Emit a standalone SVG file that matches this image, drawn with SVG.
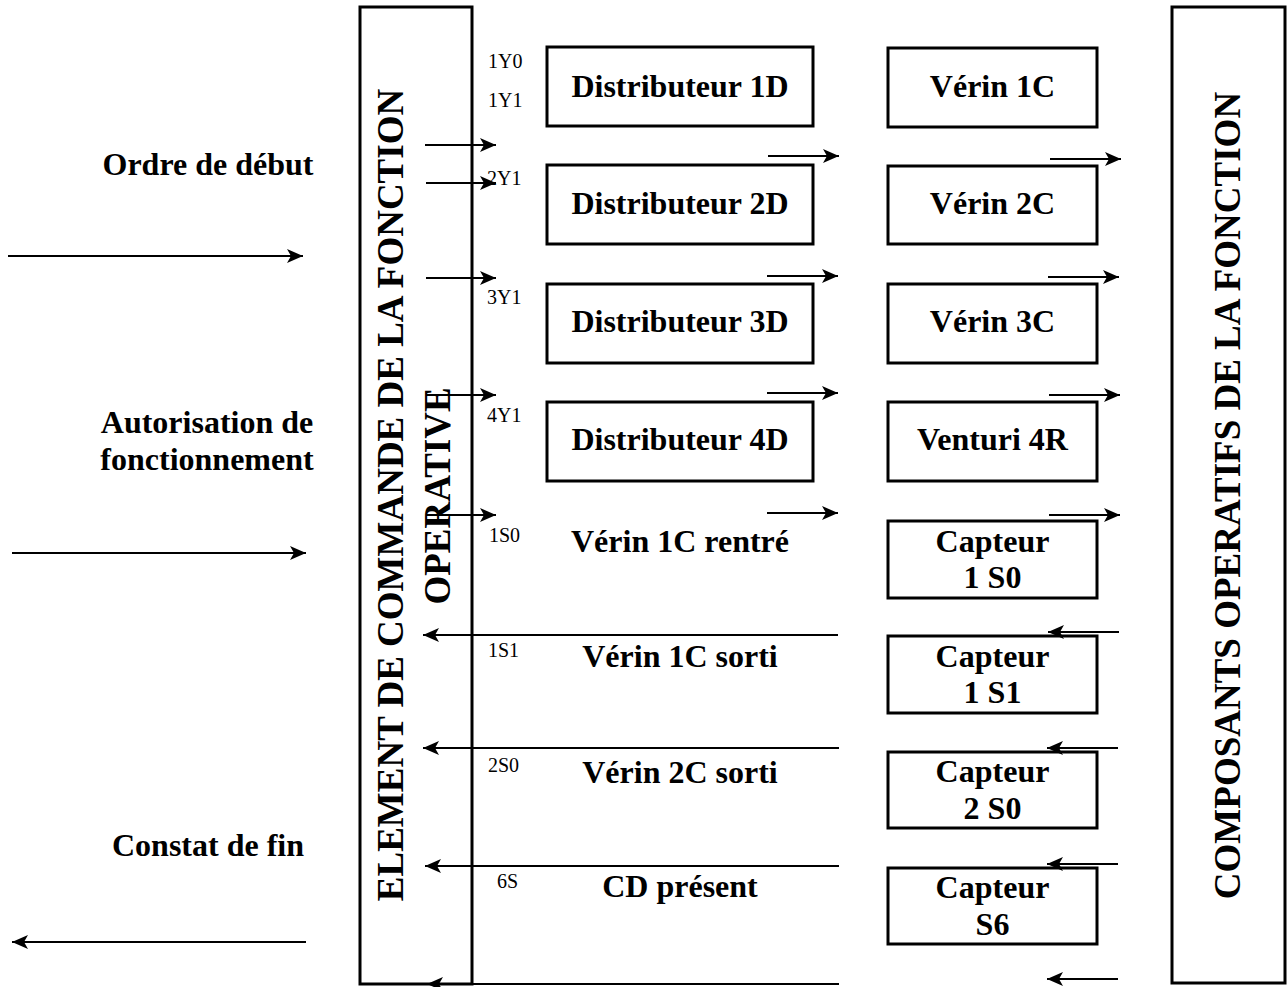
<svg xmlns="http://www.w3.org/2000/svg" width="1288" height="987" viewBox="0 0 1288 987">
<style>
.box{fill:#fff;stroke:#000;stroke-width:3}
.frame{fill:none;stroke:#000;stroke-width:3}
.t{font-family:"Liberation Serif","Times New Roman",serif;font-weight:bold;font-size:32px;fill:#000;text-anchor:middle}
.v{font-family:"Liberation Serif","Times New Roman",serif;font-weight:bold;font-size:37px;fill:#000;text-anchor:middle}
.s{font-family:"Liberation Serif","Times New Roman",serif;font-size:20px;fill:#000}
.c{stroke:#000;stroke-width:2;fill:none;marker-end:url(#ah)}
</style>
<defs>
<marker id="ah" markerWidth="17" markerHeight="16" refX="16" refY="8" orient="auto" markerUnits="userSpaceOnUse">
<path d="M0,1 L16,8 L0,15 L4,8 z" fill="#000"/>
</marker>
</defs>
<rect width="1288" height="987" fill="#fff"/>

<g id="external-labels">
<text class="t" x="208" y="175">Ordre de début</text>
<text class="t" x="207" y="433">Autorisation de</text>
<text class="t" x="207" y="470">fonctionnement</text>
<text class="t" x="208" y="856">Constat de fin</text>
</g>

<g id="commande">
<rect class="frame" x="360" y="7" width="112" height="977"/>
<text class="v" transform="translate(403,495) rotate(-90)">ELEMENT DE COMMANDE DE LA FONCTION</text>
<text class="v" transform="translate(450,496) rotate(-90)">OPERATIVE</text>
</g>

<g id="composants">
<rect class="frame" x="1172" y="7" width="113" height="976"/>
<text class="v" transform="translate(1240,495.5) rotate(-90)">COMPOSANTS OPERATIFS DE LA FONCTION</text>
</g>

<g id="signal-labels">
<text class="s" x="488" y="68">1Y0</text>
<text class="s" x="488" y="107">1Y1</text>
<text class="s" x="487" y="185">2Y1</text>
<text class="s" x="487" y="304">3Y1</text>
<text class="s" x="487" y="422">4Y1</text>
<text class="s" x="489" y="542">1S0</text>
<text class="s" x="488" y="657">1S1</text>
<text class="s" x="488" y="772">2S0</text>
<text class="s" x="497" y="888">6S</text>
</g>

<g id="dist1"><rect class="box" x="547" y="47" width="266" height="79"/><text class="t" x="680" y="97">Distributeur 1D</text></g>
<g id="dist2"><rect class="box" x="547" y="165" width="266" height="79"/><text class="t" x="680" y="214">Distributeur 2D</text></g>
<g id="dist3"><rect class="box" x="547" y="284" width="266" height="79"/><text class="t" x="680" y="332">Distributeur 3D</text></g>
<g id="dist4"><rect class="box" x="547" y="402" width="266" height="79"/><text class="t" x="680" y="450">Distributeur 4D</text></g>

<g id="sig-1s0"><text class="t" x="680" y="552">Vérin 1C rentré</text></g>
<g id="sig-1s1"><text class="t" x="680" y="667">Vérin 1C sorti</text></g>
<g id="sig-2s0"><text class="t" x="680" y="783">Vérin 2C sorti</text></g>
<g id="sig-6s"><text class="t" x="680" y="897">CD présent</text></g>

<g id="verin1"><rect class="box" x="888" y="48" width="209" height="79"/><text class="t" x="992.5" y="97">Vérin 1C</text></g>
<g id="verin2"><rect class="box" x="888" y="166" width="209" height="78"/><text class="t" x="992.5" y="214">Vérin 2C</text></g>
<g id="verin3"><rect class="box" x="888" y="284" width="209" height="79"/><text class="t" x="992.5" y="332">Vérin 3C</text></g>
<g id="venturi4"><rect class="box" x="888" y="402" width="209" height="79"/><text class="t" x="992.5" y="450">Venturi 4R</text></g>
<g id="capteur1s0"><rect class="box" x="888" y="521" width="209" height="77"/><text class="t" x="992.5" y="552">Capteur</text><text class="t" x="992.5" y="588">1 S0</text></g>
<g id="capteur1s1"><rect class="box" x="888" y="636" width="209" height="77"/><text class="t" x="992.5" y="667">Capteur</text><text class="t" x="992.5" y="703">1 S1</text></g>
<g id="capteur2s0"><rect class="box" x="888" y="752" width="209" height="76"/><text class="t" x="992.5" y="782">Capteur</text><text class="t" x="992.5" y="819">2 S0</text></g>
<g id="capteurs6"><rect class="box" x="888" y="868" width="209" height="76"/><text class="t" x="992.5" y="898">Capteur</text><text class="t" x="992.5" y="935">S6</text></g>

<g id="connectors">
<line class="c" x1="8" y1="256" x2="303" y2="256"/>
<line class="c" x1="12" y1="553" x2="306" y2="553"/>
<line class="c" x1="306" y1="942" x2="12" y2="942"/>

<line class="c" x1="425" y1="145" x2="496" y2="145"/>
<line class="c" x1="426" y1="183" x2="496" y2="183"/>
<line class="c" x1="426" y1="278" x2="496" y2="278"/>
<line class="c" x1="426" y1="395" x2="496" y2="395"/>
<line class="c" x1="426" y1="515" x2="496" y2="515"/>

<line class="c" x1="768" y1="156" x2="839" y2="156"/>
<line class="c" x1="767" y1="276" x2="838" y2="276"/>
<line class="c" x1="767" y1="393" x2="838" y2="393"/>
<line class="c" x1="767" y1="513" x2="838" y2="513"/>

<line class="c" x1="1050" y1="159" x2="1121" y2="159"/>
<line class="c" x1="1048" y1="277" x2="1119" y2="277"/>
<line class="c" x1="1049" y1="395" x2="1120" y2="395"/>
<line class="c" x1="1049" y1="515" x2="1120" y2="515"/>

<line class="c" x1="1119" y1="632" x2="1048" y2="632"/>
<line class="c" x1="1118" y1="748" x2="1047" y2="748"/>
<line class="c" x1="1118" y1="864" x2="1047" y2="864"/>
<line class="c" x1="1118" y1="979" x2="1047" y2="979"/>

<line class="c" x1="838" y1="635" x2="423" y2="635"/>
<line class="c" x1="839" y1="748" x2="423" y2="748"/>
<line class="c" x1="839" y1="866" x2="425" y2="866"/>
<line class="c" x1="839" y1="984" x2="427" y2="984"/>
</g>
</svg>
